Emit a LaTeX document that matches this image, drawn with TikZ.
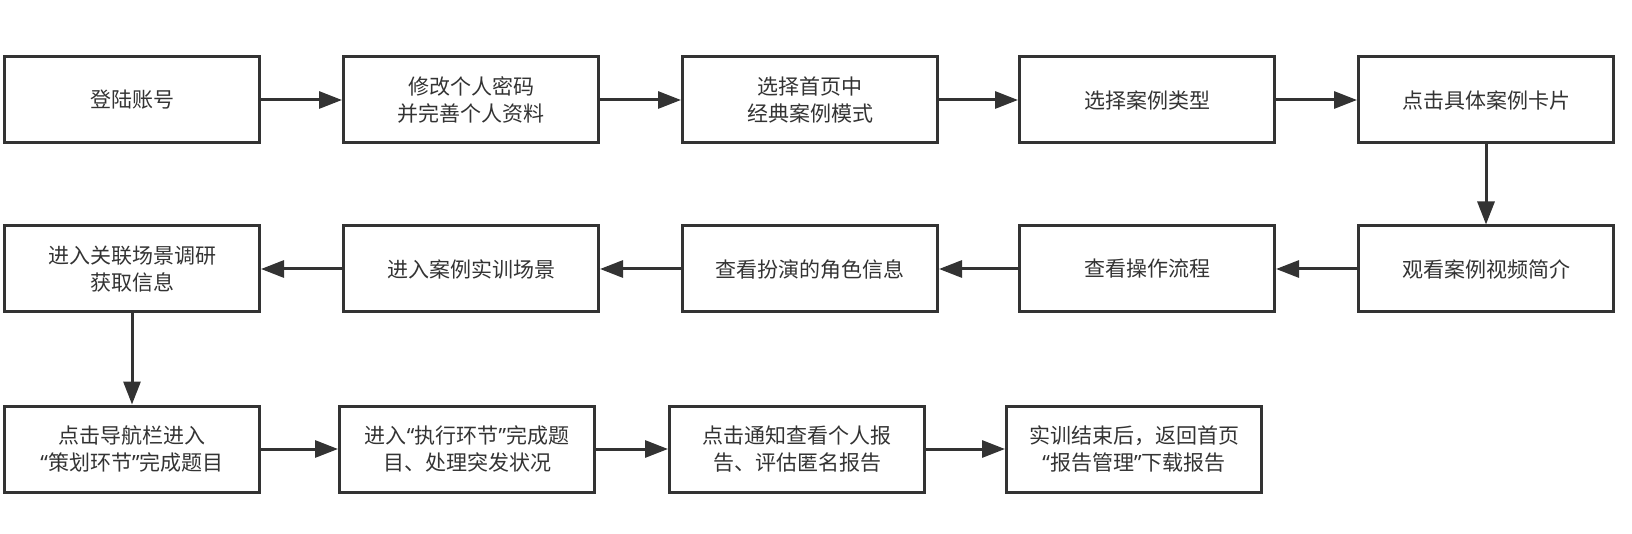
\documentclass[tikz,border=0pt]{standalone}
\usepackage{fontspec}
\newfontfamily\cjk{Noto Sans CJK SC}
\newfontfamily\quotefont{Noto Sans}
\newcommand\oq{{\quotefont “}}
\newcommand\cq{{\quotefont ”}}
\usetikzlibrary{positioning,arrows.meta}
\definecolor{boxline}{HTML}{333333}

\begin{document}
\begin{tikzpicture}[
    x=1pt, y=1pt,
    font=\cjk\fontsize{21}{26.5}\selectfont,
    stepbox/.style={draw=boxline, line width=3pt, align=center, text=boxline,
                    minimum width=255pt, minimum height=86pt, inner sep=2pt},
    arr/.style={-{Triangle[length=23pt, width=17pt]}, line width=3pt, draw=boxline}
  ]
  \useasboundingbox (0,0) rectangle (1632,-534);

  % ---- first row, left to right ----
  \node[stepbox] (login) at (132,-100) {登陆账号};
  \node[stepbox, right=81pt of login] (profile) {修改个人密码\\并完善个人资料};
  \node[stepbox, right=81pt of profile] (mode) {选择首页中\\经典案例模式};
  \node[stepbox, right=79pt of mode] (ctype) {选择案例类型};
  \node[stepbox, right=81pt of ctype] (card) {点击具体案例卡片};
  \draw[arr] (login) -- (profile);
  \draw[arr] (profile) -- (mode);
  \draw[arr] (mode) -- (ctype);
  \draw[arr] (ctype) -- (card);

  % ---- second row, right to left ----
  \node[stepbox, below=80pt of card] (video) {观看案例视频简介};
  \node[stepbox, left=81pt of video] (flow) {查看操作流程};
  \node[stepbox, left=79pt of flow] (role) {查看扮演的角色信息};
  \node[stepbox, left=81pt of role] (scene) {进入案例实训场景};
  \node[stepbox, left=81pt of scene] (survey) {进入关联场景调研\\获取信息};
  \draw[arr] (card) -- (video);
  \draw[arr] (video) -- (flow);
  \draw[arr] (flow) -- (role);
  \draw[arr] (role) -- (scene);
  \draw[arr] (scene) -- (survey);

  % ---- third row, left to right ----
  \node[stepbox, below=91pt of survey] (plan) {点击导航栏进入\\\oq 策划环节\cq 完成题目};
  \node[stepbox, right=77pt of plan] (exec) {进入\oq 执行环节\cq 完成题\\目、处理突发状况};
  \node[stepbox, right=72pt of exec] (report) {点击通知查看个人报\\告、评估匿名报告};
  \node[stepbox, right=79pt of report] (finish) {实训结束后，返回首页\\\oq 报告管理\cq 下载报告};
  \draw[arr] (survey) -- (plan);
  \draw[arr] (plan) -- (exec);
  \draw[arr] (exec) -- (report);
  \draw[arr] (report) -- (finish);

\end{tikzpicture}
\end{document}
